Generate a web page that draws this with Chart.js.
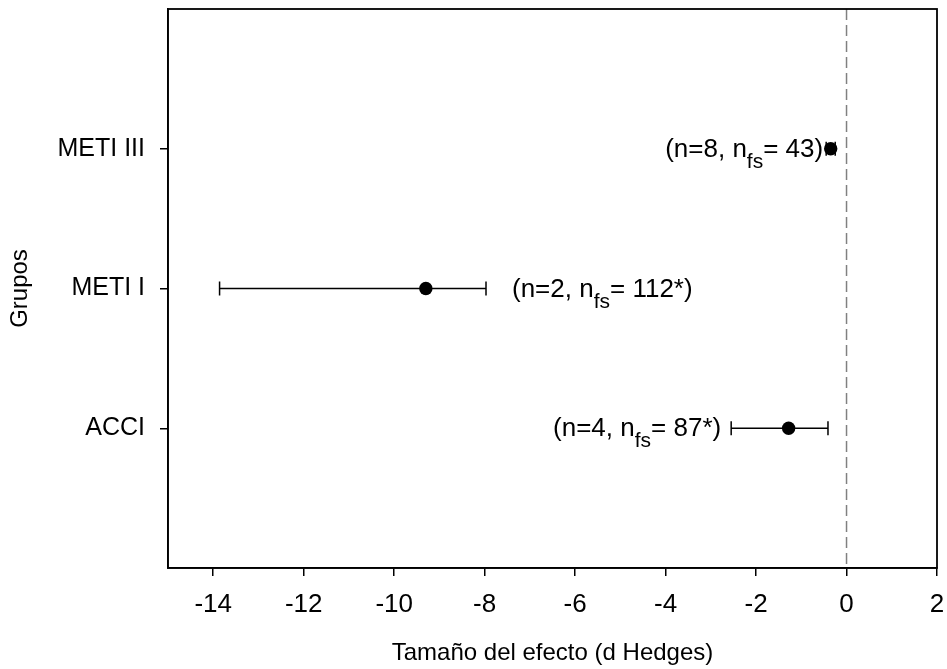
<!DOCTYPE html>
<html>
<head>
<meta charset="utf-8">
<script src="https://cdn.jsdelivr.net/npm/chart.js@4.4.1/dist/chart.umd.min.js"></script>
<style>
    html, body { margin: 0; padding: 0; background: #fff; }
</style>
</head>
<body>
<canvas id="forestChart" width="947" height="669"></canvas>
<script>
// ========== DATOS ==========
const groups = ['ACCI', 'METI I', 'METI III'];
const effect = [-1.28, -9.30, -0.35];
const ciLow = [-2.55, -13.86, -0.45];
const ciHigh = [-0.41, -7.97, -0.25];
const nStudies = ['4', '2', '8'];
const nFailSafe = ['87*', '112*', '43'];
const xTicks = [-14, -12, -10, -8, -6, -4, -2, 0, 2];

const FONT = '"Liberation Sans", Arial, sans-serif';

/**
 * Plugin: marco, línea de cero, barras de error y etiquetas
 */
const forestPlugin = {
    id: 'forestPlugin',
    beforeDatasetsDraw(chart, args, opts) {
        const { ctx, chartArea, scales: { x, y } } = chart;

        // Línea discontinua en 0
        const x0 = x.getPixelForValue(0);
        ctx.save();
        ctx.strokeStyle = '#808080';
        ctx.lineWidth = 1.5;
        ctx.setLineDash([11, 5]);
        ctx.beginPath();
        ctx.moveTo(x0, chartArea.top);
        ctx.lineTo(x0, chartArea.bottom);
        ctx.stroke();
        ctx.restore();

        // Barras de error
        ctx.save();
        ctx.strokeStyle = '#000';
        ctx.lineWidth = 1.5;
        groups.forEach((g, i) => {
            const py = y.getPixelForValue(i + 1);
            const xl = x.getPixelForValue(ciLow[i]);
            const xh = x.getPixelForValue(ciHigh[i]);
            ctx.beginPath();
            ctx.moveTo(xl, py);
            ctx.lineTo(xh, py);
            ctx.moveTo(xl, py - 7);
            ctx.lineTo(xl, py + 7);
            ctx.moveTo(xh, py - 7);
            ctx.lineTo(xh, py + 7);
            ctx.stroke();
        });
        ctx.restore();
    },
    afterDraw(chart, args, opts) {
        const { ctx, chartArea, scales: { x, y } } = chart;

        // Marco completo
        ctx.save();
        ctx.strokeStyle = '#000';
        ctx.lineWidth = 1.8;
        ctx.strokeRect(chartArea.left, chartArea.top,
            chartArea.right - chartArea.left, chartArea.bottom - chartArea.top);
        ctx.restore();

        // Etiquetas (n=.., n_fs= ..)
        ctx.save();
        ctx.fillStyle = '#000';
        ctx.textBaseline = 'alphabetic';
        groups.forEach((g, i) => {
            const a = opts.anchors[i];
            const py = y.getPixelForValue(i + 1) + 8;
            const part1 = '(n=' + nStudies[i] + ', n';
            const part2 = 'fs';
            const part3 = '= ' + nFailSafe[i] + ')';
            ctx.font = '26px ' + FONT;
            const w1 = ctx.measureText(part1).width;
            const w3 = ctx.measureText(part3).width;
            ctx.font = '21px ' + FONT;
            const w2 = ctx.measureText(part2).width;
            const total = w1 + w2 + w3;

            let startX;
            if (a.side === 'left') {
                startX = x.getPixelForValue(ciLow[i]) - a.gap - total;
            } else {
                startX = x.getPixelForValue(ciHigh[i]) + a.gap;
            }
            ctx.font = '26px ' + FONT;
            ctx.fillText(part1, startX, py);
            ctx.font = '21px ' + FONT;
            ctx.fillText(part2, startX + w1, py + 11);
            ctx.font = '26px ' + FONT;
            ctx.fillText(part3, startX + w1 + w2, py);
        });
        ctx.restore();
    }
};

const ctx = document.getElementById('forestChart');

new Chart(ctx, {
    type: 'scatter',
    data: {
        datasets: [{
            data: groups.map((g, i) => ({ x: effect[i], y: i + 1 })),
            pointRadius: 6.7,
            pointHoverRadius: 6.7,
            backgroundColor: '#000',
            borderWidth: 0
        }]
    },
    options: {
        responsive: false,
        animation: false,
        layout: {
            padding: { top: 9, right: 10, left: 0, bottom: 0 }
        },
        scales: {
            x: {
                type: 'linear',
                min: -15,
                max: 2,
                afterBuildTicks: scale => {
                    scale.ticks = xTicks.map(v => ({ value: v }));
                },
                afterFit: scale => {
                    scale.height = 101;
                    scale.paddingLeft = 0;
                    scale.paddingRight = 0;
                },
                ticks: {
                    color: '#000',
                    font: { size: 26, family: FONT },
                    padding: 13,
                    maxRotation: 0
                },
                grid: {
                    drawOnChartArea: false,
                    drawTicks: true,
                    tickLength: 8,
                    color: '#000',
                    lineWidth: 1.5
                },
                border: { display: true, color: '#000', width: 1.5 },
                title: {
                    display: true,
                    text: 'Tamaño del efecto (d Hedges)',
                    color: '#000',
                    font: { size: 24, family: FONT },
                    padding: { top: 0, bottom: 1 }
                }
            },
            y: {
                type: 'linear',
                min: 0,
                max: 4,
                afterBuildTicks: scale => {
                    scale.ticks = groups.map((g, i) => ({ value: i + 1 }));
                },
                afterFit: scale => {
                    scale.width = 168;
                    scale.paddingTop = 0;
                    scale.paddingBottom = 0;
                },
                ticks: {
                    color: '#000',
                    font: { size: 25, family: FONT },
                    padding: 15,
                    callback: v => groups[v - 1]
                },
                grid: {
                    drawOnChartArea: false,
                    drawTicks: true,
                    tickLength: 8,
                    color: '#000',
                    lineWidth: 1.5
                },
                border: { display: true, color: '#000', width: 1.5 },
                title: {
                    display: true,
                    text: 'Grupos',
                    color: '#000',
                    font: { size: 24, family: FONT },
                    padding: { top: 6, bottom: 0 }
                }
            }
        },
        plugins: {
            legend: { display: false },
            tooltip: { enabled: false },
            forestPlugin: {
                anchors: [
                    { side: 'left', gap: 10 },
                    { side: 'right', gap: 26 },
                    { side: 'left', gap: 3 }
                ]
            }
        }
    },
    plugins: [forestPlugin]
});
</script>
</body>
</html>
